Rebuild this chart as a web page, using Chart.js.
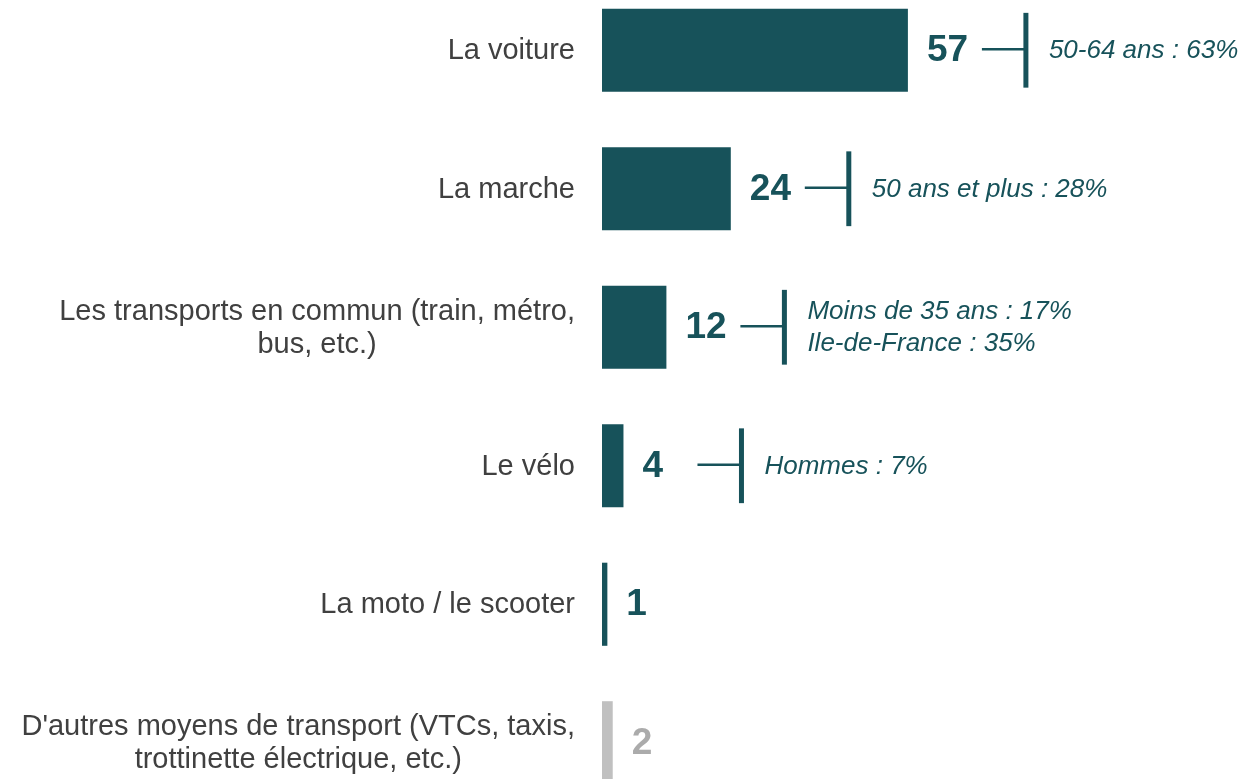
<!DOCTYPE html>
<html><head><meta charset="utf-8">
<script src="https://cdn.jsdelivr.net/npm/chart.js@4"></script>
<style>
html,body{margin:0;padding:0;background:#fff;overflow:hidden;width:1246px;height:779px;}
#wrap{position:absolute;left:0;top:-19px;width:1246px;height:831px;}
</style></head><body>
<div id="wrap"><canvas id="c"></canvas></div>
<script>
// Data
const categories = [
  ["La voiture"],
  ["La marche"],
  ["Les transports en commun (train, métro,", "bus, etc.)"],
  ["Le vélo"],
  ["La moto / le scooter"],
  ["D'autres moyens de transport (VTCs, taxis,", "trottinette électrique, etc.)"]
];
const values = [57, 24, 12, 4, 1, 2];
const highlights = [
  ["50-64 ans : 63%"],
  ["50 ans et plus : 28%"],
  ["Moins de 35 ans : 17%", "Ile-de-France : 35%"],
  ["Hommes : 7%"],
  [],
  []
];
const isOther = [false, false, false, false, false, true];

// Styles
const TEAL = "#17525a";
const GREY_BAR = "#c0c0c0";
const GREY_TXT = "#ababab";
const CAT_COLOR = "#404040";
const FONT = "'Liberation Sans', Arial, Helvetica, sans-serif";

const overlay = {
  id: "overlay",
  afterDatasetsDraw(chart) {
    const ctx = chart.ctx;
    const meta = chart.getDatasetMeta(0);
    const area = chart.chartArea;
    ctx.save();
    meta.data.forEach((bar, i) => {
      const y = bar.y;
      const h = bar.height;
      const end = Math.max(bar.x, bar.base);
      // category label (right aligned block, lines centred)
      ctx.font = "29px " + FONT;
      ctx.fillStyle = CAT_COLOR;
      ctx.textBaseline = "middle";
      const lines = categories[i];
      const widths = lines.map(l => ctx.measureText(l).width);
      const wMax = Math.max(...widths);
      const right = area.left - 27;
      const lh = 33;
      const y0 = y - (lines.length - 1) * lh / 2 + 1;
      ctx.textAlign = "center";
      lines.forEach((l, k) => ctx.fillText(l, right - wMax / 2, y0 + k * lh));

      // value label
      ctx.font = "bold 37px " + FONT;
      ctx.fillStyle = isOther[i] ? GREY_TXT : TEAL;
      ctx.textAlign = "left";
      const txt = String(values[i]);
      ctx.fillText(txt, end + 19, y + 1);

      // highlight callout
      const hl = highlights[i];
      if (hl.length) {
        const xv = end + 118;
        const x1 = xv - 44;
        ctx.strokeStyle = TEAL;
        ctx.lineWidth = 2.5;
        ctx.beginPath();
        ctx.moveTo(x1, y - 1);
        ctx.lineTo(xv, y - 1);
        ctx.stroke();
        ctx.lineWidth = 5;
        ctx.beginPath();
        ctx.moveTo(xv, y - h * 0.45);
        ctx.lineTo(xv, y + h * 0.45);
        ctx.stroke();
        ctx.font = "italic 26px " + FONT;
        ctx.fillStyle = TEAL;
        ctx.textAlign = "left";
        const hlh = 32;
        const hy0 = y - (hl.length - 1) * hlh / 2;
        hl.forEach((t, k) => ctx.fillText(t, xv + 23, hy0 + k * hlh + 1));
      }
    });
    ctx.restore();
  }
};

new Chart(document.getElementById("c"), {
  type: "bar",
  data: {
    labels: categories.map(c => c.join(" ")),
    datasets: [{
      data: values,
      backgroundColor: values.map((v, i) => isOther[i] ? GREY_BAR : TEAL),
      borderWidth: 0,
      barPercentage: 0.6,
      categoryPercentage: 1
    }]
  },
  options: {
    indexAxis: "y",
    responsive: true,
    maintainAspectRatio: false,
    animation: false,
    layout: { padding: { left: 602, right: 0, top: 0, bottom: 0 } },
    scales: {
      x: { display: false, min: 0, max: 120 },
      y: { display: false }
    },
    plugins: { legend: { display: false }, tooltip: { enabled: false } }
  },
  plugins: [overlay]
});
</script>
</body></html>
